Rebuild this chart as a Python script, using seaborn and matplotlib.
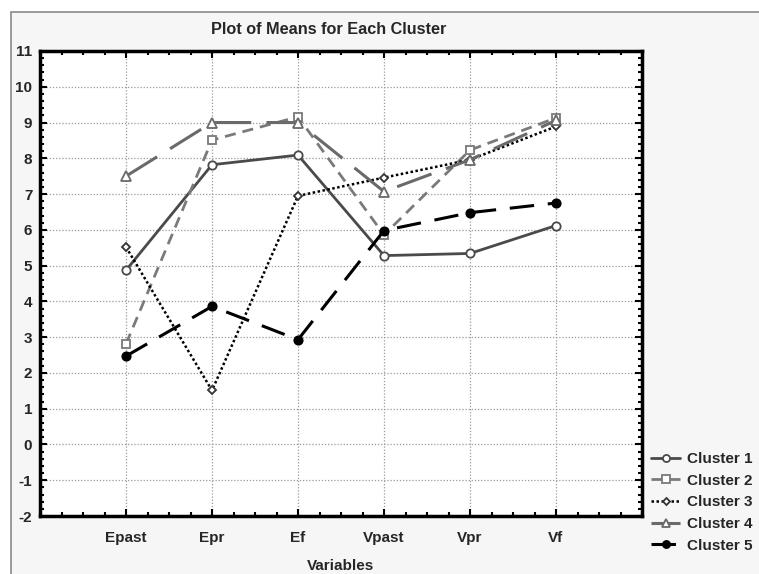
import numpy as np
import pandas as pd
import matplotlib
matplotlib.use('Agg')
import matplotlib.pyplot as plt
import seaborn as sns
from matplotlib.ticker import MultipleLocator
from matplotlib.patches import Rectangle

# ---- data ----
variables = ['Epast', 'Epr', 'Ef', 'Vpast', 'Vpr', 'Vf']
cluster_names = ['Cluster 1', 'Cluster 2', 'Cluster 3', 'Cluster 4', 'Cluster 5']
cluster1 = [4.87, 7.82, 8.09, 5.28, 5.34, 6.12]
cluster2 = [2.81, 8.51, 9.16, 5.86, 8.23, 9.13]
cluster3 = [5.52, 1.51, 6.95, 7.46, 7.96, 8.89]
cluster4 = [7.50, 9.00, 9.00, 7.07, 7.96, 9.06]
cluster5 = [2.47, 3.86, 2.93, 5.98, 6.48, 6.75]
y_ticks = list(range(-2, 12))

series = [cluster1, cluster2, cluster3, cluster4, cluster5]

sns.set_style('white')
plt.rcParams['font.family'] = ['Liberation Sans', 'DejaVu Sans']
plt.rcParams['font.weight'] = 'bold'

W, H = 759, 574
fig = plt.figure(figsize=(W / 100, H / 100), dpi=100)
fig.patch.set_facecolor('white')
fig.add_artist(Rectangle((11 / W, -0.01), 1.0, (H - 12) / H + 0.01,
                         transform=fig.transFigure, facecolor='#f6f6f6',
                         edgecolor='#8a8a8a', linewidth=1.2, zorder=-5))

ax = fig.add_axes([40 / W, 1 - 516 / H, (642 - 40) / W, (516 - 51) / H])
ax.set_facecolor('white')

styles = [
    dict(color='#4a4a4a', linestyle='-', marker='o', markersize=6,
         markerfacecolor='white', markeredgecolor='#4a4a4a', linewidth=2.0),
    dict(color='#7a7a7a', linestyle=(0, (4, 2.5)), marker='s', markersize=6,
         markerfacecolor='white', markeredgecolor='#7a7a7a', linewidth=2.0),
    dict(color='black', linestyle=(0, (1, 1)), marker='D', markersize=4.2,
         markerfacecolor='white', markeredgecolor='#333333', linewidth=1.8),
    dict(color='#6a6a6a', linestyle=(0, (12, 5)), marker='^', markersize=6.5,
         markerfacecolor='white', markeredgecolor='#6a6a6a', linewidth=2.2),
    dict(color='black', linestyle=(0, (8, 4.5)), marker='o', markersize=6,
         markerfacecolor='black', markeredgecolor='black', linewidth=2.2),
]

pos = np.arange(len(variables))
for name, vals, st in zip(cluster_names, series, styles):
    df = pd.DataFrame({'pos': pos, 'mean': vals})
    sns.lineplot(data=df, x='pos', y='mean', ax=ax, sort=False, label=name,
                 markeredgewidth=1.3, **st)

ax.set_xlim(-1, len(variables))
ax.set_ylim(-2, 11)
ax.set_xticks(pos)
ax.set_xticklabels(variables)
ax.set_yticks(y_ticks)
ax.set_yticklabels([str(t) for t in y_ticks])
ax.xaxis.set_minor_locator(MultipleLocator(0.25))
ax.yaxis.set_minor_locator(MultipleLocator(0.2))
ax.tick_params(which='both', direction='in', top=True, right=True,
               bottom=True, left=True, width=1.5, color='black')
ax.tick_params(which='major', length=5)
ax.tick_params(which='minor', length=3)
ax.tick_params(axis='x', which='major', labelsize=11, pad=10.5)
ax.tick_params(axis='y', which='major', labelsize=11, pad=5.5)
for lab in ax.get_xticklabels() + ax.get_yticklabels():
    lab.set_fontweight('bold')

ax.grid(True, which='major', linestyle=(0, (1, 1.5)), color='#9a9a9a', linewidth=0.9)
ax.set_axisbelow(True)
for sp in ax.spines.values():
    sp.set_linewidth(2.5)
    sp.set_color('black')
    sp.set_visible(True)

ax.set_xlabel('Variables', fontsize=11, fontweight='bold', labelpad=10.5)
ax.set_ylabel('')

fig.text(329 / W, 1 - 30 / H, 'Plot of Means for Each Cluster',
         ha='center', va='center', fontsize=11.7, fontweight='bold')

leg = ax.legend(loc='upper left', bbox_to_anchor=(651 / W, 1 - 452 / H),
                bbox_transform=fig.transFigure, frameon=False,
                borderaxespad=0, borderpad=0, handlelength=1.9,
                handletextpad=0.45, labelspacing=0.5, markerscale=0.85,
                prop={'family': 'Liberation Sans', 'weight': 'bold', 'size': 11})

fig.savefig('out.png', dpi=100)
